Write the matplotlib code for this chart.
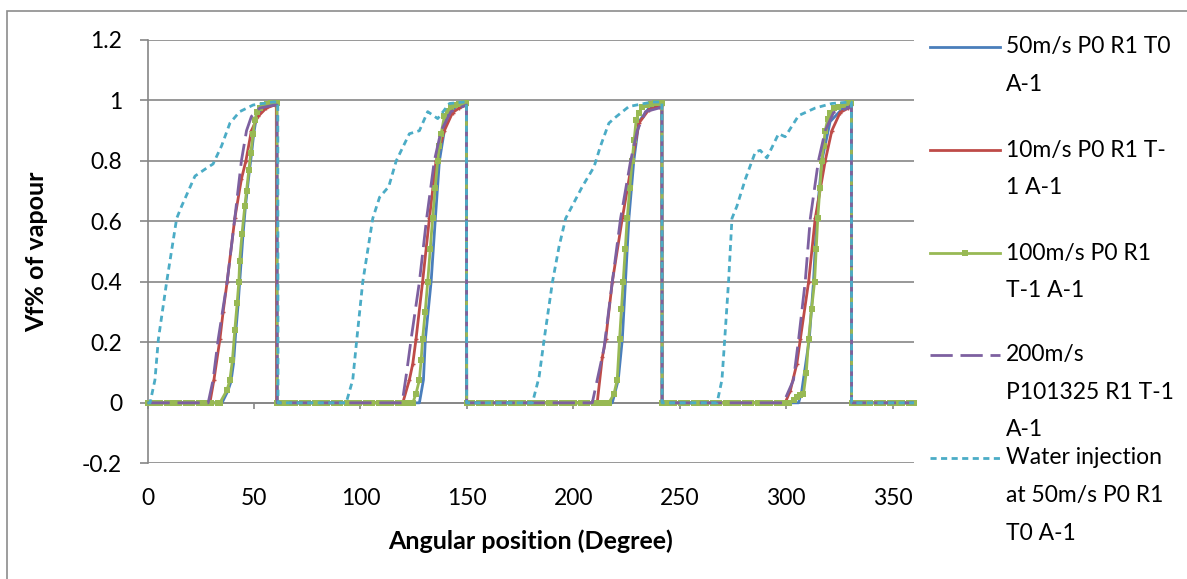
import matplotlib
matplotlib.use("Agg")
import matplotlib.pyplot as plt
from matplotlib.lines import Line2D
from matplotlib.patches import Rectangle

plt.rcParams['font.family'] = ['Lato', 'DejaVu Sans']

# ---------------- data (angle in degrees, vapour fraction) ----------------
blue_x = [0, 35.0, 37.8, 39.2, 40.4, 41.4, 42.5, 43.3, 44.8, 46.0, 47.9, 48.8, 49.9, 50.8, 52.0, 55.0, 60.0, 60.8,
          60.9, 127.7, 129.6, 130.5, 133.2, 135.2, 137.1, 140.5, 144.9, 149.8,
          149.9, 218.3, 221.1, 223.0, 226.1, 228.4, 230.8, 235.5, 241.6,
          241.7, 305.8, 307.3, 310.8, 312.8, 314.3, 316.7, 320.6, 326.0, 330.6,
          330.7, 360]
blue_y = [0, 0, 0.04, 0.07, 0.13, 0.23, 0.32, 0.40, 0.55, 0.65, 0.77, 0.82, 0.89, 0.93, 0.96, 0.98, 0.985, 0.985,
          0, 0, 0.076, 0.21, 0.40, 0.61, 0.80, 0.947, 0.98, 0.985,
          0, 0, 0.076, 0.21, 0.61, 0.80, 0.93, 0.975, 0.985,
          0, 0, 0.04, 0.21, 0.40, 0.61, 0.80, 0.93, 0.97, 0.985,
          0, 0]

red_x = [0, 29.3, 31.2, 34.0, 35.5, 37.4, 41.0, 44.1, 46.2, 48.8, 51.9, 55.8, 59.7, 60.5,
         60.6, 119.9, 123.0, 124.6, 126.1, 129.2, 132.4, 135.5, 139.4, 143.3, 146.4, 149.8,
         149.9, 211.2, 213.6, 215.2, 218.3, 223.0, 227.6, 230.8, 235.5, 240.2, 241.6,
         241.7, 299.5, 301.9, 305.0, 306.6, 310.5, 313.6, 318.3, 321.4, 325.3, 329.2, 330.6,
         330.7, 360]
red_y = [0, 0, 0.076, 0.21, 0.30, 0.40, 0.61, 0.74, 0.80, 0.90, 0.947, 0.975, 0.985, 0.985,
         0, 0, 0.076, 0.13, 0.21, 0.40, 0.61, 0.80, 0.90, 0.96, 0.975, 0.985,
         0, 0, 0.15, 0.21, 0.40, 0.61, 0.80, 0.925, 0.97, 0.98, 0.985,
         0, 0, 0.04, 0.13, 0.21, 0.40, 0.61, 0.80, 0.90, 0.96, 0.975, 0.985,
         0, 0]

green_x = [0, 3, 6, 9, 12, 15, 18, 21, 24, 27, 30, 33, 34.0,
           37.4, 38.7, 39.9, 41.0, 42.1, 42.9, 43.3, 44.4, 45.7, 46.5, 47.6, 48.5, 49.6, 50.4, 51.5, 52.8,
           54.3, 56.0, 57.8, 59.7, 60.8,
           60.9, 63.5, 66.5, 69.5, 72.5, 75.5, 78.5, 81.5, 84.5, 87.5, 90.5, 93.5, 96.5, 99.5, 102.5,
           105.5, 108.5, 111.5, 114.5, 117.5, 120.5, 123.5,
           124.6, 126.1, 127.7, 128.5, 129.2, 130.4, 131.6, 132.8, 133.9, 135.1, 136.3, 137.1, 137.9,
           139.4, 141.0, 142.5, 144.5, 146.5, 148.8, 149.8,
           149.9, 152.5, 155.5, 158.5, 161.5, 164.5, 167.5, 170.5, 173.5, 176.5, 179.5, 182.5, 185.5,
           188.5, 191.5, 194.5, 197.5, 200.5, 203.5, 206.5, 209.5, 212.5, 215.5,
           216.7, 219.1, 220.6, 221.7, 222.6, 223.4, 224.4, 225.3, 226.5, 227.6, 228.6, 229.5, 230.9,
           232.3, 234.5, 236.5, 238.5, 240.2, 241.6,
           241.7, 244.5, 247.5, 250.5, 253.5, 256.5, 259.5, 262.5, 265.5, 268.5, 271.5, 274.5, 277.5,
           280.5, 283.5, 286.5, 289.5, 292.5, 295.5, 298.5, 301.5, 303.5, 305.0, 306.5,
           308.1, 309.4, 310.5, 311.9, 313.3, 314.1, 314.8, 315.8, 316.7, 317.5, 318.3, 319.5, 320.6,
           322.5, 324.3, 326.5, 329.2, 330.6,
           330.7, 333.5, 336.5, 339.5, 342.5, 345.5, 348.5, 351.5, 354.5, 357.5, 360]
green_y = [0, 0, 0, 0, 0, 0, 0, 0, 0, 0, 0, 0, 0,
           0.043, 0.076, 0.142, 0.24, 0.33, 0.40, 0.47, 0.56, 0.65, 0.70, 0.77, 0.826, 0.89, 0.936, 0.963, 0.975,
           0.985, 0.988, 0.99, 0.99, 0.99,
           0, 0, 0, 0, 0, 0, 0, 0, 0, 0, 0, 0, 0, 0, 0,
           0, 0, 0, 0, 0, 0, 0,
           0, 0.03, 0.076, 0.14, 0.21, 0.30, 0.40, 0.51, 0.61, 0.71, 0.80, 0.85, 0.89,
           0.947, 0.965, 0.98, 0.985, 0.988, 0.99, 0.99,
           0, 0, 0, 0, 0, 0, 0, 0, 0, 0, 0, 0, 0,
           0, 0, 0, 0, 0, 0, 0, 0, 0, 0,
           0, 0.03, 0.076, 0.21, 0.31, 0.40, 0.51, 0.61, 0.71, 0.80, 0.87, 0.936, 0.96,
           0.98, 0.985, 0.988, 0.99, 0.99, 0.99,
           0, 0, 0, 0, 0, 0, 0, 0, 0, 0, 0, 0, 0,
           0, 0, 0, 0, 0, 0, 0, 0, 0.01, 0.02, 0.025,
           0.03, 0.10, 0.21, 0.31, 0.40, 0.51, 0.61, 0.71, 0.80, 0.85, 0.90, 0.94, 0.96,
           0.975, 0.98, 0.985, 0.99, 0.99,
           0, 0, 0, 0, 0, 0, 0, 0, 0, 0, 0]

purple_x = [0, 28.5, 30.8, 33.2, 37.4, 41.0, 44.1, 46.5, 48.8, 52.7, 59.7, 60.8,
            60.9, 119.6, 121.7, 123.8, 127.7, 131.1, 134.7, 137.9, 142.5, 148.0, 149.8,
            149.9, 208.9, 214.4, 218.3, 222.2, 226.9, 230.0, 233.9, 240.2, 241.6,
            241.7, 298.7, 303.4, 305.8, 308.9, 311.3, 315.1, 318.3, 322.2, 329.2, 330.6,
            330.7, 360]
purple_y = [0, 0, 0.076, 0.21, 0.40, 0.61, 0.80, 0.90, 0.947, 0.975, 0.985, 0.985,
            0, 0, 0.10, 0.21, 0.40, 0.61, 0.80, 0.90, 0.963, 0.98, 0.985,
            0, 0, 0.18, 0.40, 0.61, 0.80, 0.90, 0.963, 0.975, 0.985,
            0, 0, 0.076, 0.21, 0.40, 0.61, 0.80, 0.90, 0.96, 0.975, 0.985,
            0, 0]

cyan_x = [0, 1.2, 3.5, 5.1, 9.0, 13.7, 16.0, 22.3, 27.7, 30.8, 34.8, 38.7, 43.3, 49.6, 59.0, 61.2,
          61.3, 93.3, 96.4, 98.3, 101.1, 105.8, 109.0, 113.3, 116.8, 123.0, 127.7, 131.6, 136.3, 141.8,
          148.8, 149.8,
          149.9, 180.8, 183.9, 186.3, 190.2, 193.3, 196.4, 204.2, 209.7, 212.8, 216.7, 219.9, 226.1,
          237.0, 241.6,
          241.7, 267.5, 269.8, 271.1, 272.9, 274.5, 276.8, 280.8, 285.5, 287.8, 290.9, 296.4, 299.5,
          305.8, 313.6, 321.4, 330.0, 330.6,
          330.7, 360]
cyan_y = [0, 0, 0.076, 0.21, 0.40, 0.61, 0.65, 0.75, 0.776, 0.79, 0.85, 0.925, 0.963, 0.985, 0.995, 0.995,
          0, 0, 0.076, 0.21, 0.40, 0.61, 0.68, 0.715, 0.80, 0.89, 0.90, 0.963, 0.94, 0.99,
          0.995, 0.995,
          0, 0, 0.085, 0.21, 0.40, 0.517, 0.61, 0.715, 0.78, 0.85, 0.925, 0.945, 0.98,
          0.995, 0.995,
          0, 0, 0.076, 0.21, 0.40, 0.61, 0.65, 0.74, 0.83, 0.835, 0.81, 0.89, 0.88,
          0.95, 0.975, 0.99, 0.995, 0.995,
          0, 0]

labels = ["50m/s P0 R1 T0\nA-1",
          "10m/s P0 R1 T-\n1 A-1",
          "100m/s P0 R1\nT-1 A-1",
          "200m/s\nP101325 R1 T-1\nA-1",
          "Water injection\nat 50m/s P0 R1\nT0 A-1"]

x_ticks = [0, 50, 100, 150, 200, 250, 300, 350]
y_ticks = [-0.2, 0, 0.2, 0.4, 0.6, 0.8, 1.0, 1.2]
y_tick_labels = ["-0.2", "0", "0.2", "0.4", "0.6", "0.8", "1", "1.2"]

# ---------------- styles ----------------
C_BLUE = "#4A7EBB"
C_RED = "#BE4B48"
C_GREEN = "#98B954"
C_PURPLE = "#7D60A0"
C_CYAN = "#4BACC6"
GRID = "#868686"
TICK_FS = 16.5
LEG_FS = 16.5
LAB_FS = 18

W, H = 1187, 579
fig = plt.figure(figsize=(W / 100, H / 100), dpi=100)

# outer chart border (right and bottom edges lie outside the image)
fig.add_artist(Rectangle((7 / W, -0.2), 1.2, 1.2 - 11 / H, transform=fig.transFigure,
                         fill=False, edgecolor="#8C8C8C", linewidth=1.2))

ax = fig.add_axes([147.5 / W, (H - 463.3) / H, (914 - 147.5) / W, (463.3 - 40) / H])

lw = 2.0
series = [
    dict(x=blue_x, y=blue_y, color=C_BLUE, ls="-", marker=None, ms=0),
    dict(x=red_x, y=red_y, color=C_RED, ls="-", marker="+", ms=3),
    dict(x=green_x, y=green_y, color=C_GREEN, ls="-", marker="s", ms=4.2),
    dict(x=purple_x, y=purple_y, color=C_PURPLE, ls=(0, (8, 2.8)), marker=None, ms=0),
    dict(x=cyan_x, y=cyan_y, color=C_CYAN, ls=(0, (2.2, 1.6)), marker=None, ms=0),
]
for i, s in enumerate(series):
    ax.plot(s["x"], s["y"], color=s["color"], linestyle=s["ls"], linewidth=lw,
            marker=s["marker"], markersize=s["ms"], markeredgewidth=1.0 if s["marker"] == "+" else 0,
            markerfacecolor=s["color"], markeredgecolor=s["color"], zorder=3 + i, clip_on=False)

ax.set_xlim(0, 360)
ax.set_ylim(-0.2, 1.2)
ax.set_yticks(y_ticks)
ax.set_yticklabels(y_tick_labels)
ax.set_xticks(x_ticks)
ax.set_xticklabels([str(v) for v in x_ticks])

for y in y_ticks:
    ax.axhline(y, color=GRID, linewidth=1.2, zorder=1)

for sp in ["top", "right"]:
    ax.spines[sp].set_visible(False)
ax.spines["left"].set_color(GRID)
ax.spines["left"].set_linewidth(1.2)
ax.spines["bottom"].set_position(("data", 0))
ax.spines["bottom"].set_color(GRID)
ax.spines["bottom"].set_linewidth(1.2)

ax.tick_params(axis="y", direction="out", length=5.8, width=1.2, color=GRID, pad=12.5,
               labelsize=TICK_FS, labelcolor="black")
ax.tick_params(axis="x", direction="out", length=4.3, width=1.2, color=GRID, pad=57,
               labelsize=TICK_FS, labelcolor="black")

# axis titles
fig.text(530.7 / W, 1 - 541 / H, "Angular position (Degree)", fontsize=LAB_FS,
         fontweight="bold", ha="center", va="center")
fig.text(37 / W, 1 - 252 / H, "Vf% of vapour", fontsize=LAB_FS, fontweight="bold",
         ha="center", va="center", rotation=90)

# ---------------- legend (manual, Excel style) ----------------
legend_y = [47, 150, 253, 355, 458]
line_spacing = 37.5
for s, lab, ly in zip(series, labels, legend_y):
    yf = 1 - ly / H
    fig.add_artist(Line2D([930 / W, 1000 / W], [yf, yf], transform=fig.transFigure,
                          color=s["color"], linestyle=s["ls"], linewidth=lw))
    if s["marker"] == "s":
        fig.add_artist(Line2D([965 / W], [yf], transform=fig.transFigure, color=s["color"],
                              marker="s", markersize=4.2, markeredgewidth=0, linestyle="none"))
    for k, line in enumerate(lab.split("\n")):
        fig.text(1006 / W, 1 - (ly + k * line_spacing) / H, line, fontsize=LEG_FS,
                 ha="left", va="center", color="black")

fig.savefig("out.png", dpi=100)
